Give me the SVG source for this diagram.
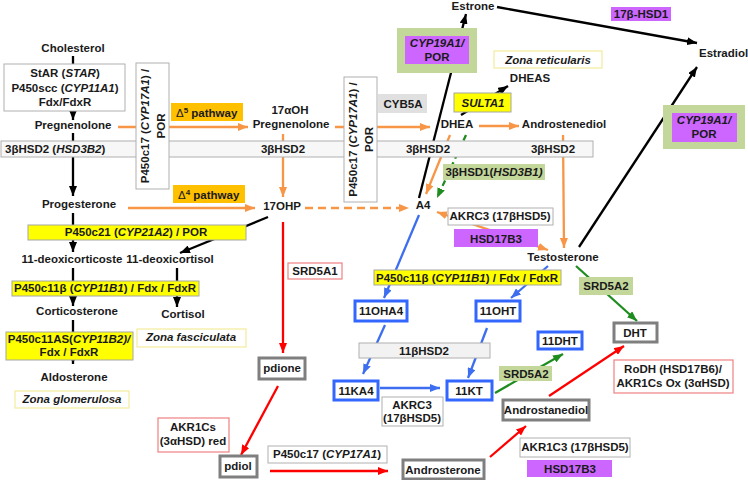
<svg xmlns="http://www.w3.org/2000/svg" width="748" height="480" viewBox="0 0 748 480">
<style>
text{font-family:"Liberation Sans",Arial,sans-serif;font-size:11.5px;font-weight:bold;fill:#1a1a1a}
.c{text-anchor:middle}
.i{font-style:italic}
.n{font-weight:normal}
.gb{fill:#fff;stroke:#b0b0b0;stroke-width:1}
.bar{fill:#f7f7f7;stroke:#b0b0b0;stroke-width:1}
.yb{fill:#ffff00;stroke:#a6a6a6;stroke-width:1}
.pb{fill:#cc66ff}
.grn{fill:#c4d79b}
.ob{fill:#ffc000}
.zb{fill:#fff;stroke:#f3ec9c;stroke-width:1.2}
.rb{fill:#fff;stroke:#f08080;stroke-width:1.2}
.tb{fill:#fff;stroke:#7f7f7f;stroke-width:3}
.bb{fill:#fff;stroke:#3366ff;stroke-width:3}
.k{stroke:#000;stroke-width:2.3;fill:none;marker-end:url(#ak)}
.o{stroke:#f79646;stroke-width:2.3;fill:none;marker-end:url(#ao)}
.od{stroke:#f79646;stroke-width:2.3;fill:none;marker-end:url(#ao);stroke-dasharray:8 5}
.g{stroke:#1e8c1e;stroke-width:2.3;fill:none;marker-end:url(#ag)}
.gd{stroke:#1e8c1e;stroke-width:2.3;fill:none;marker-end:url(#ag);stroke-dasharray:6 4}
.b{stroke:#3d6ef0;stroke-width:2.3;fill:none;marker-end:url(#ab)}
.r{stroke:#ff0000;stroke-width:2.3;fill:none;marker-end:url(#ar)}
</style>
<defs>
<marker id="ak" markerUnits="userSpaceOnUse" markerWidth="10" markerHeight="8" refX="10" refY="4" orient="auto"><path d="M0,0 L10,4 L0,8 z" fill="#000"/></marker>
<marker id="ao" markerUnits="userSpaceOnUse" markerWidth="10" markerHeight="8" refX="10" refY="4" orient="auto-start-reverse"><path d="M0,0 L10,4 L0,8 z" fill="#f79646"/></marker>
<marker id="ag" markerUnits="userSpaceOnUse" markerWidth="10" markerHeight="8" refX="10" refY="4" orient="auto"><path d="M0,0 L10,4 L0,8 z" fill="#1e8c1e"/></marker>
<marker id="ab" markerUnits="userSpaceOnUse" markerWidth="10" markerHeight="8" refX="10" refY="4" orient="auto"><path d="M0,0 L10,4 L0,8 z" fill="#3d6ef0"/></marker>
<marker id="ar" markerUnits="userSpaceOnUse" markerWidth="10" markerHeight="8" refX="10" refY="4" orient="auto"><path d="M0,0 L10,4 L0,8 z" fill="#ff0000"/></marker>
</defs>
<rect width="748" height="480" fill="#fff"/>

<g id="connectors">
<line class="k" x1="73" y1="56" x2="73" y2="120"/>
<line class="k" x1="73" y1="133" x2="73" y2="196"/>
<line class="k" x1="73" y1="213" x2="73" y2="252"/>
<line class="k" x1="268" y1="217" x2="180" y2="253"/>
<line class="k" x1="73" y1="268" x2="73" y2="306"/>
<line class="k" x1="177" y1="268" x2="177" y2="307"/>
<line class="k" x1="73" y1="320" x2="73" y2="364"/>
<line class="k" x1="419" y1="198" x2="466" y2="14"/>
<line class="k" x1="497" y1="7" x2="697" y2="43"/>
<line class="k" x1="579" y1="247" x2="697" y2="67"/>
<line class="k" x1="461" y1="115" x2="508" y2="86"/>
<line class="o" x1="118" y1="127" x2="248" y2="127"/>
<line class="o" x1="335" y1="127" x2="430" y2="127"/>
<line class="o" x1="479" y1="126" x2="519" y2="126"/>
<line class="o" x1="283" y1="134" x2="283" y2="197"/>
<line class="o" x1="128" y1="208" x2="255" y2="208"/>
<line class="od" x1="305" y1="208" x2="409" y2="208"/>
<line class="o" x1="450" y1="135" x2="426" y2="194"/>
<line class="o" x1="563" y1="135" x2="564" y2="248"/>
<line class="o" x1="437" y1="212" x2="548" y2="250" style="marker-start:url(#ao)"/>
<line class="gd" x1="466" y1="135" x2="437" y2="198"/>
<line class="g" x1="576" y1="266" x2="637" y2="321"/>
<line class="g" x1="495" y1="393" x2="563" y2="354"/>
<line class="b" x1="419" y1="215" x2="384" y2="298"/>
<line class="b" x1="548" y1="266" x2="511" y2="298"/>
<line class="b" x1="385" y1="325" x2="363" y2="374"/>
<line class="b" x1="487" y1="328" x2="468" y2="378"/>
<line class="b" x1="380" y1="388" x2="440" y2="388"/>
<line class="r" x1="283" y1="222" x2="283" y2="353"/>
<line class="r" x1="278" y1="386" x2="241" y2="455"/>
<line class="r" x1="270" y1="471" x2="388" y2="471"/>
<line class="r" x1="490" y1="457" x2="526" y2="426"/>
<line class="r" x1="549" y1="396" x2="624" y2="346"/>
</g>

<g id="bar-3bhsd2"><rect class="bar" x="1" y="141" width="592" height="16"/>
<text x="5" y="153">3βHSD2 (<tspan class="i">HSD3B2</tspan>)</text>
<text class="c" x="283" y="153">3βHSD2</text>
<text class="c" x="428" y="153">3βHSD2</text>
<text class="c" x="553" y="153">3βHSD2</text></g>

<g id="cholesterol"><text class="c" x="73" y="52">Cholesterol</text></g>
<g id="star-box"><rect class="gb" x="4" y="64" width="121" height="47"/>
<text class="c" x="65" y="77">StAR (<tspan class="i">STAR</tspan>)</text>
<text class="c" x="65" y="91.5">P450scc (<tspan class="i">CYP11A1</tspan>)</text>
<text class="c" x="65" y="106">Fdx/FdxR</text></g>
<g id="pregnenolone"><text class="c" x="73" y="129">Pregnenolone</text></g>
<g id="delta5"><rect class="ob" x="171" y="103" width="72" height="18"/>
<text x="176" y="117"><tspan class="n">Δ</tspan><tspan font-size="8" dy="-4">5</tspan><tspan dy="4"> pathway</tspan></text></g>
<g id="p450c17-a"><rect class="gb" x="136" y="63" width="33" height="126"/>
<text class="c" transform="translate(148.5,126) rotate(-90)">P450c17 (<tspan class="i">CYP17A1</tspan>) /</text>
<text class="c" transform="translate(165,126) rotate(-90)">POR</text></g>
<g id="oh-pregnenolone"><text class="c" x="290" y="114">17αOH</text><text class="c" x="291" y="128">Pregnenolone</text></g>
<g id="p450c17-b"><rect class="gb" x="344" y="77" width="33" height="125"/>
<text class="c" transform="translate(357,139.5) rotate(-90)">P450c17 (<tspan class="i">CYP17A1</tspan>) /</text>
<text class="c" transform="translate(373,139.5) rotate(-90)">POR</text></g>
<g id="cyb5a"><rect x="378" y="94" width="49" height="19" fill="#e0e0e0"/><text class="c" x="403" y="108">CYB5A</text></g>
<g id="dhea"><text class="c" x="457" y="128">DHEA</text></g>
<g id="sulta1"><rect class="yb" x="454" y="93" width="57" height="19"/><text class="c i" x="483" y="107">SULTA1</text></g>
<g id="zona-reticularis"><rect class="zb" x="494" y="51" width="108" height="17"/><text class="c i" x="548" y="64">Zona reticularis</text></g>
<g id="dheas"><text class="c" x="530" y="82">DHEAS</text></g>
<g id="androstenediol"><text class="c" x="564" y="128">Androstenediol</text></g>
<g id="estrone"><text class="c" x="473" y="10">Estrone</text></g>
<g id="cyp19-a"><rect class="grn" x="397" y="28" width="80" height="45"/><rect class="pb" x="405" y="36" width="64" height="28"/>
<text class="c i" x="437" y="47">CYP19A1/</text><text class="c" x="437" y="61">POR</text></g>
<g id="hsd1"><rect class="pb" x="611" y="7" width="60" height="14"/><text class="c" x="641" y="18">17β-HSD1</text></g>
<g id="estradiol"><text x="699" y="57">Estradiol</text></g>
<g id="cyp19-b"><rect class="grn" x="663" y="105" width="82" height="44"/><rect class="pb" x="672" y="113" width="65" height="29"/>
<text class="c i" x="704" y="124">CYP19A1/</text><text class="c" x="704" y="138">POR</text></g>
<g id="progesterone"><text class="c" x="79" y="208">Progesterone</text></g>
<g id="delta4"><rect class="ob" x="173" y="185" width="72" height="18"/>
<text x="178" y="199"><tspan class="n">Δ</tspan><tspan font-size="8" dy="-4">4</tspan><tspan dy="4"> pathway</tspan></text></g>
<g id="ohp"><text class="c" x="282" y="210">17OHP</text></g>
<g id="a4"><text class="c" x="423" y="209">A4</text></g>
<g id="hsd3b1"><rect class="grn" x="443" y="164" width="102" height="16"/><text class="c" x="494" y="176">3βHSD1(<tspan class="i">HSD3B1)</tspan></text></g>
<g id="akrc3-a"><rect class="gb" x="448" y="208" width="105" height="17"/><text class="c" x="500" y="220">AKRC3 (17βHSD5)</text></g>
<g id="hsd17b3-a"><rect class="pb" x="454" y="229" width="84" height="18"/><text class="c" x="496" y="243">HSD17B3</text></g>
<g id="p450c21"><rect class="yb" x="28" y="225" width="218" height="15"/><text class="c" x="136" y="236">P450c21 (<tspan class="i">CYP21A2</tspan>) / POR</text></g>
<g id="deoxicorticoste"><text class="c" x="72" y="263">11-deoxicorticoste</text></g>
<g id="deoxicortisol"><text class="c" x="170" y="263">11-deoxicortisol</text></g>
<g id="testosterone"><text class="c" x="563" y="261">Testosterone</text></g>
<g id="srd5a2-a"><rect class="grn" x="579" y="277" width="54" height="18"/><text class="c" x="606" y="290">SRD5A2</text></g>
<g id="p450c11b-a"><rect class="yb" x="12" y="281" width="187" height="15"/><text class="c" x="105" y="292">P450c11β (<tspan class="i">CYP11B1</tspan>) / Fdx / FdxR</text></g>
<g id="srd5a1"><rect class="rb" x="288" y="263" width="54" height="16"/><text class="c" x="315" y="275">SRD5A1</text></g>
<g id="p450c11b-b"><rect class="yb" x="374" y="270" width="187" height="15"/><text class="c" x="467" y="282">P450c11β (<tspan class="i">CYP11B1</tspan>) / Fdx / FdxR</text></g>
<g id="corticosterone"><text class="c" x="77" y="315">Corticosterone</text></g>
<g id="cortisol"><text class="c" x="183" y="318">Cortisol</text></g>
<g id="oha4"><rect class="bb" x="355" y="301" width="52" height="20"/><text class="c" x="381" y="315">11OHA4</text></g>
<g id="oht"><rect class="bb" x="476" y="301" width="44" height="20"/><text class="c" x="498" y="315">11OHT</text></g>
<g id="dht"><rect class="tb" x="614" y="323" width="43" height="19"/><text class="c" x="635" y="337">DHT</text></g>
<g id="zona-fasciculata"><rect class="zb" x="137" y="329" width="109" height="18"/><text class="c i" x="191" y="341">Zona fasciculata</text></g>
<g id="p450c11as"><rect class="yb" x="6" y="332" width="127" height="28"/>
<text class="c" x="69" y="343" font-size="10.9">P450c11AS(<tspan class="i">CYP11B2)/</tspan></text>
<text class="c" x="69" y="356">Fdx / FdxR</text></g>
<g id="dht11"><rect class="bb" x="538" y="332" width="44" height="17"/><text class="c" x="560" y="345">11DHT</text></g>
<g id="hsd11b2"><rect x="359" y="343" width="131" height="15" fill="#f2f2f2" stroke="#b0b0b0"/><text class="c" x="424" y="355">11βHSD2</text></g>
<g id="pdione"><rect class="tb" x="259" y="358" width="46" height="21"/><text class="c" x="282" y="372">pdione</text></g>
<g id="rodh"><rect class="rb" x="614" y="360" width="119" height="33"/>
<text class="c" x="673" y="373">RoDH (HSD17B6)/</text><text class="c" x="673" y="387">AKR1Cs Ox (3αHSD)</text></g>
<g id="srd5a2-b"><rect class="grn" x="499" y="366" width="53" height="15"/><text class="c" x="526" y="378">SRD5A2</text></g>
<g id="aldosterone"><text class="c" x="74" y="381">Aldosterone</text></g>
<g id="ka4"><rect class="bb" x="334" y="381" width="44" height="19"/><text class="c" x="356" y="395">11KA4</text></g>
<g id="kt"><rect class="bb" x="447" y="381" width="45" height="19"/><text class="c" x="469" y="395">11KT</text></g>
<g id="akrc3-b"><rect class="gb" x="382" y="397" width="61" height="29"/>
<text class="c" x="412" y="409">AKRC3</text><text class="c" x="412" y="422">(17βHSD5)</text></g>
<g id="zona-glomerulosa"><rect class="zb" x="15" y="391" width="114" height="17"/><text class="c i" x="72" y="403">Zona glomerulosa</text></g>
<g id="androstanediol"><rect class="tb" x="503" y="400" width="86" height="20"/><text class="c" x="546" y="414">Androstanediol</text></g>
<g id="akr1cs"><rect class="rb" x="158" y="418" width="71" height="34"/>
<text class="c" x="193" y="431">AKR1Cs</text><text class="c" x="193" y="445">(3αHSD) red</text></g>
<g id="akr1c3"><rect class="gb" x="520" y="438" width="110" height="19"/><text class="c" x="575" y="451">AKR1C3 (17βHSD5)</text></g>
<g id="p450c17-c"><rect class="gb" x="268" y="446" width="119" height="17"/><text class="c" x="327" y="458">P450c17 (<tspan class="i">CYP17A1</tspan>)</text></g>
<g id="pdiol"><rect class="tb" x="220" y="456" width="37" height="21"/><text class="c" x="238" y="470">pdiol</text></g>
<g id="androsterone"><rect class="tb" x="403" y="460" width="81" height="19"/><text class="c" x="443" y="474">Androsterone</text></g>
<g id="hsd17b3-b"><rect class="pb" x="527" y="460" width="85" height="17"/><text class="c" x="570" y="473">HSD17B3</text></g>
</svg>
